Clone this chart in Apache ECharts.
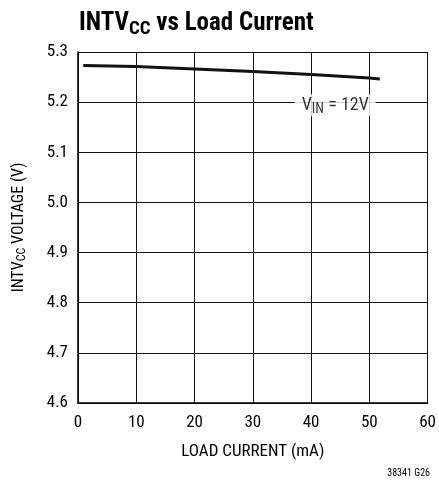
<!DOCTYPE html>
<html>
<head>
<meta charset="utf-8">
<script src="https://cdn.jsdelivr.net/npm/echarts@6/dist/echarts.min.js"></script>
<style>
html,body{margin:0;padding:0;background:#fff;}
#c{width:439px;height:487px;}
</style>
</head>
<body>
<div id="c"></div>
<script>
// Data
var loadCurrent = [0.9, 10, 20, 30, 40, 50, 51.8];
var intvccVoltage = [5.273, 5.271, 5.266, 5.261, 5.255, 5.248, 5.246];
var xTicks = [0, 10, 20, 30, 40, 50, 60];
var yTicks = [4.6, 4.7, 4.8, 4.9, 5.0, 5.1, 5.2, 5.3];
var annotationPoint = [44.15, 5.2];

var FONT = "'Liberation Sans Narrow', 'Roboto Condensed', 'DejaVu Sans Condensed', 'Arial Narrow', 'Roboto', sans-serif";

var chart = echarts.init(document.getElementById('c'), null, {renderer: 'canvas'});
var seriesData = loadCurrent.map(function (x, i) { return [x, intvccVoltage[i]]; });

chart.setOption({
  animation: false,
  backgroundColor: '#fff',
  title: {
    text: '{t|INTV}{s|CC}{t| vs Load Current}',
    left: 74,
    top: 4,
    textStyle: {
      rich: {
        t: {fontFamily: FONT, fontWeight: 'bold', fontSize: 25, color: '#000', lineHeight: 28, verticalAlign: 'middle'},
        s: {fontFamily: FONT, fontWeight: 'bold', fontSize: 19, color: '#000', verticalAlign: 'bottom', padding: [11, 0, 0, 0]}
      }
    }
  },
  graphic: [{
    type: 'text',
    right: 9,
    bottom: 9,
    style: {text: '38341 G26', fontFamily: FONT, fontSize: 10, fill: '#000'}
  }],
  grid: {left: 78, right: 9, top: 52, bottom: 84, containLabel: false},
  xAxis: {
    type: 'value',
    min: xTicks[0],
    max: xTicks[xTicks.length - 1],
    interval: 10,
    name: 'LOAD CURRENT (mA)',
    nameLocation: 'middle',
    nameGap: 40,
    nameTextStyle: {fontFamily: FONT, fontSize: 17, color: '#000'},
    axisLine: {show: true, lineStyle: {color: '#000', width: 1.5}},
    axisTick: {show: false},
    axisLabel: {fontFamily: FONT, fontSize: 17, color: '#000', margin: 11,
      formatter: function (v) { return xTicks.indexOf(v) >= 0 ? String(v) : ''; }},
    splitLine: {show: true, lineStyle: {color: '#111', width: 1}}
  },
  yAxis: {
    type: 'value',
    min: yTicks[0],
    max: yTicks[yTicks.length - 1],
    interval: 0.1,
    name: '{a|INTV}{b|CC}{a| VOLTAGE (V)}',
    nameLocation: 'middle',
    nameGap: 50,
    nameRotate: 90,
    nameTextStyle: {
      rich: {
        a: {fontFamily: FONT, fontSize: 16, color: '#000', lineHeight: 18, verticalAlign: 'middle'},
        b: {fontFamily: FONT, fontSize: 12, color: '#000', verticalAlign: 'bottom', padding: [7, 0, 0, 0]}
      }
    },
    axisLine: {show: true, lineStyle: {color: '#000', width: 1.5}},
    axisTick: {show: false},
    axisLabel: {fontFamily: FONT, fontSize: 17, color: '#000', margin: 10,
      formatter: function (v) { return v.toFixed(1); }},
    splitLine: {show: true, lineStyle: {color: '#111', width: 1}}
  },
  series: [{
    type: 'line',
    data: seriesData,
    showSymbol: false,
    symbol: 'none',
    smooth: false,
    lineStyle: {color: '#111', width: 3},
    z: 3
  }, {
    type: 'scatter',
    data: [annotationPoint],
    symbolSize: 0,
    silent: true,
    z: 4,
    label: {
      show: true,
      position: 'inside',
      offset: [0, 3],
      formatter: '{a|V}{b|IN}{a| = 12V}',
      backgroundColor: '#fff',
      padding: [0, 7, 0, 7],
      rich: {
        a: {fontFamily: FONT, fontSize: 18, color: '#000', lineHeight: 18, verticalAlign: 'middle'},
        b: {fontFamily: FONT, fontSize: 14, color: '#000', verticalAlign: 'bottom', padding: [8, 0, 0, 0]}
      }
    }
  }]
});
</script>
</body>
</html>
